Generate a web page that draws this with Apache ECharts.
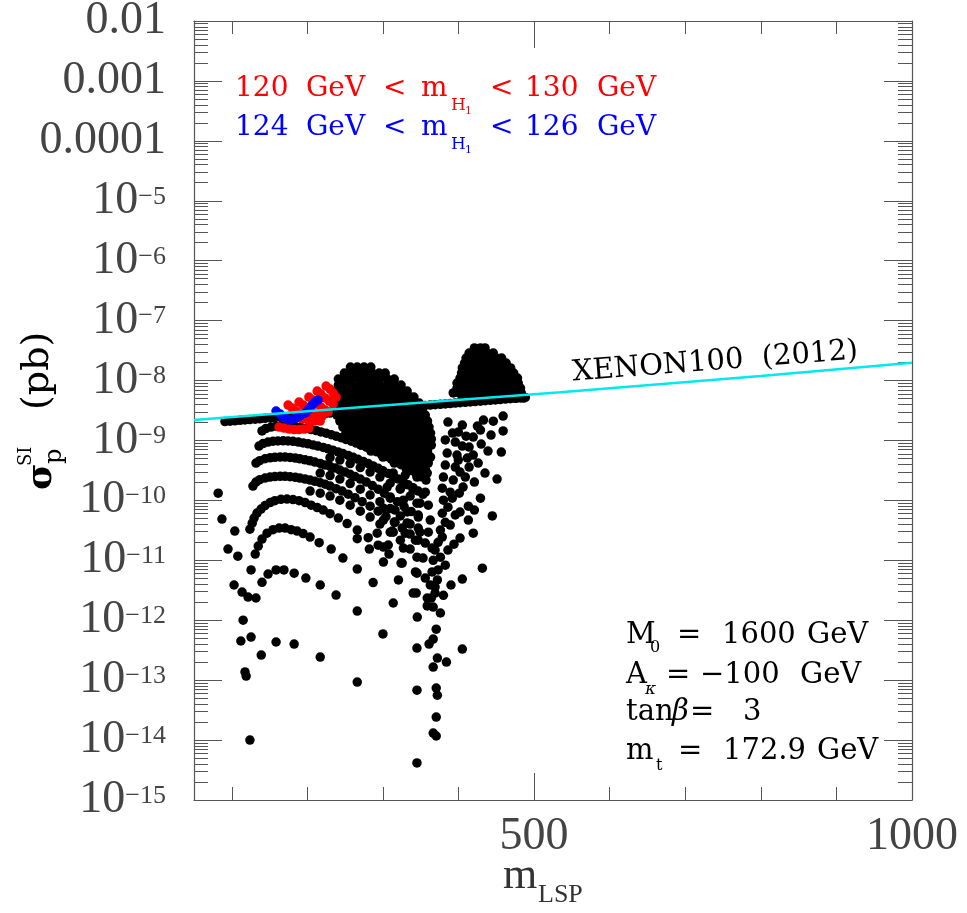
<!DOCTYPE html>
<html>
<head>
<meta charset="utf-8">
<script src="https://cdn.jsdelivr.net/npm/echarts@6/dist/echarts.min.js"></script>
<style>
html,body{margin:0;padding:0;background:#fff;}
#chart{width:967px;height:913px;}
</style>
</head>
<body>
<div id="chart"></div>
<script>
// ---------------- axis ticks / labels ----------------
const massTicksMajor = [500, 1000];
const massTickLabels = ['500', '1000'];
const massTicksMinor = [100, 200, 300, 400, 600, 700, 800, 900];
const sigmaExponents = [-15, -14, -13, -12, -11, -10, -9, -8, -7, -6, -5, -4, -3, -2];
const sigmaTickLabels = ['{b|10}{s|\u221215}', '{b|10}{s|\u221214}', '{b|10}{s|\u221213}', '{b|10}{s|\u221212}',
  '{b|10}{s|\u221211}', '{b|10}{s|\u221210}', '{b|10}{s|\u22129}', '{b|10}{s|\u22128}', '{b|10}{s|\u22127}',
  '{b|10}{s|\u22126}', '{b|10}{s|\u22125}', '{b|0.0001}', '{b|0.001}', '{b|0.01}'];
const minorMantissas = [2, 3, 4, 5, 6, 7, 8, 9];

// ---------------- XENON100 (2012) limit ----------------
const xenonMass = [50, 200, 300, 535, 800, 1000];
const xenonSigma = [2.2e-9, 3.08e-9, 3.85e-9, 6.35e-9, 1.19e-8, 1.98e-8];

// ---------------- black points ----------------
const bandPoints = [[91,2.07e-9],[97.7,2.10e-9],[104,2.13e-9],[111,2.17e-9],[117.5,2.20e-9],[124,2.23e-9],[131,2.27e-9],[137,2.30e-9],[144,2.34e-9],[150.7,2.38e-9],[157,2.41e-9],[164,2.45e-9],[170.5,2.49e-9],[177,2.53e-9],[184,2.56e-9],[190,2.60e-9],[197,2.64e-9],[203.6,2.69e-9],[210,2.73e-9],[217,2.77e-9],[223.5,2.81e-9],[230,2.86e-9],[237,2.90e-9],[243,2.95e-9],[250,2.99e-9],[256.6,3.04e-9],[263,3.09e-9],[270,3.13e-9],[276.5,3.18e-9],[283,3.23e-9],[290,3.28e-9],[296,3.33e-9],[303,3.38e-9],[309.6,3.44e-9],[316,3.49e-9],[323,3.54e-9],[329.5,3.60e-9],[336,3.66e-9],[343,3.71e-9],[349,3.77e-9],[356,3.83e-9],[362.6,3.89e-9],[369,3.95e-9],[376,4.01e-9],[382.5,4.07e-9],[389,4.13e-9],[395.7,4.20e-9],[402,4.26e-9],[409,4.33e-9],[415.6,4.40e-9],[422,4.46e-9],[429,4.53e-9],[435.4,4.60e-9],[442,4.68e-9],[448.7,4.75e-9],[455,4.82e-9],[462,4.90e-9],[468.5,4.97e-9],[475,5.05e-9],[482,5.13e-9],[488.4,5.21e-9]];

const fanSigma = [3.5e-8, 2.88e-8, 2.37e-8, 1.96e-8, 1.62e-8, 1.33e-8, 1.10e-8, 9.1e-9, 7.5e-9, 6.2e-9, 5.1e-9];
const fanMass = [
  [421,429,435],
  [414,422,430,438,446],
  [410,418,426,434,442,450,457],
  [408,416,424,432,439,447,455,463],
  [405,413,421,429,437,445,453,461,469],
  [404,412,420,428,435,443,451,459,467,473],
  [402,410,418,426,434,442,450,458,466,474,478],
  [398,406,414,422,430,438,446,454,462,470,479],
  [398,406,414,422,430,438,446,454,462,470,482],
  [393,401,409,417,425,433,441,449,457,465,473,483],
  [405,413,421,429,437,445,453,461,469,477,486]
];

const blobSigma = [1.68e-8, 1.33e-8, 1.06e-8, 8.4e-9, 6.67e-9, 5.3e-9, 4.2e-9, 3.34e-9, 2.65e-9, 2.11e-9, 1.67e-9, 1.33e-9, 1.05e-9, 8.37e-10, 6.64e-10, 5.28e-10, 4.19e-10, 3.33e-10];
const blobMass = [
  [257,266,275,284],
  [249,258,267,277,286,295,303],
  [241,250,259,269,278,287,296,306,315],
  [241,250,259,269,278,287,296,306,315,324],
  [239,249,258,267,277,286,295,304,314,323,332],
  [243,253,262,271,281,290,299,308,318,327,336,341],
  [239,249,258,267,277,286,295,304,314,323,332,341,348],
  [243,253,262,271,281,290,299,308,318,327,336,345,352],
  [239,249,258,267,277,286,295,304,314,323,332,341,349,356],
  [243,253,262,271,281,290,299,308,318,327,336,345,355,359],
  [247,257,266,275,284,294,303,312,322,331,340,349,357,361],
  [251,261,270,279,288,298,307,316,326,335,344,353,363],
  [257,266,275,284,294,303,312,322,331,340,349,359,364],
  [271,281,290,299,308,318,327,336,345,355,364],
  [284,294,303,312,322,331,340,349,359],
  [300,310,319,328,337,347,356,363],
  [315,324,333,343,352,360],
  [331,340,349,356]
];

const arcPoints = [
  [140,4.3e-12],[148,5.9e-12],[158.6,6.9e-12],[169,6.9e-12],[182.5,6.1e-12],[198,5.06e-12],[217,3.87e-12],[238,2.63e-12],[266,1.42e-12],[300,5.9e-13],
  [131,1.27e-11],[135,1.73e-11],[140,2.26e-11],[146.7,2.84e-11],[154.6,3.25e-11],[162.6,3.45e-11],[170.5,3.45e-11],[178.5,3.25e-11],[186.4,3.07e-11],[194.4,2.79e-11],[203.6,2.44e-11],[215.6,1.97e-11],[231.5,1.54e-11],[247,1.09e-11],[266,7.15e-12],[287,4.25e-12],[313.6,1.94e-12],
  [124,3.31e-11],[127,4.17e-11],[129.5,5.06e-11],[133.4,6.13e-11],[138.7,7.15e-11],[144,8.18e-11],[150.7,9.18e-11],[157,9.9e-11],[165,1.04e-10],[173,1.05e-10],[181,1.03e-10],[189,9.9e-11],[197,9.2e-11],[205,8.3e-11],[213,7.6e-11],[221,6.9e-11],[230,6.0e-11],[241,5.06e-11],[252.6,4.1e-11],[266,3.2e-11],[280.5,2.39e-11],[293.7,1.79e-11],[308,1.27e-11],[324,9.0e-12],
  [128,1.73e-10],[132,2.02e-10],[137,2.22e-10],[144,2.36e-10],[150.7,2.45e-10],[157,2.5e-10],[164,2.52e-10],[170.5,2.52e-10],[177,2.49e-10],[184,2.43e-10],[190,2.36e-10],[197,2.27e-10],[203.6,2.18e-10],[210,2.08e-10],[217,1.97e-10],[223.5,1.86e-10],[230,1.73e-10],[238,1.57e-10],[246,1.43e-10],[254,1.27e-10],[263,1.11e-10],[272.5,9.5e-11],[283,8.0e-11],[293.7,6.6e-11],[304,5.36e-11],[315,4.35e-11],[325.5,3.45e-11],[336,2.74e-11],[346.7,2.17e-11],
  [132,4.19e-10],[137,4.6e-10],[144,4.95e-10],[150.7,5.14e-10],[157,5.24e-10],[164,5.28e-10],[170.5,5.28e-10],[177,5.22e-10],[184,5.08e-10],[190,4.93e-10],[197,4.76e-10],[203.6,4.58e-10],[210,4.36e-10],[217,4.14e-10],[223.5,3.9e-10],[230,3.69e-10],[237,3.46e-10],[243,3.2e-10],[250,2.97e-10],[256.6,2.73e-10],[263,2.5e-10],[270,2.27e-10],[278,2.02e-10],[286,1.77e-10],[293.7,1.54e-10],[301.7,1.32e-10],[309.6,1.14e-10],[319,9.5e-11],[328,7.9e-11],[337.4,6.5e-11],[346.7,5.26e-11],
  [136,8.05e-10],[141.4,8.88e-10],[148,9.4e-10],[154.6,9.7e-10],[161,9.8e-10],[168,9.85e-10],[174.5,9.8e-10],[181,9.66e-10],[188,9.4e-10],[194.4,9.1e-10],[201,8.8e-10],[207.6,8.4e-10],[214,8.05e-10],[221,7.66e-10],[227.5,7.26e-10],[234,6.85e-10],[240.7,6.44e-10],[247,6.04e-10],[254,5.63e-10],[260.6,5.24e-10],[267,4.85e-10],[274,4.47e-10],[280.5,4.11e-10],[287,3.76e-10],[293.7,3.43e-10],[300,3.12e-10],[307,2.82e-10],[313.6,2.54e-10],[320,2.28e-10],[327,2.04e-10],[333.4,1.82e-10],[340,1.62e-10],[346.7,1.43e-10],[353,1.26e-10],
  [140,1.44e-9],[145,1.58e-9],[152,1.67e-9],[158.6,1.73e-9],[165,1.75e-9],[172,1.75e-9],[178.5,1.73e-9],[185,1.69e-9],[191.7,1.64e-9],[198,1.58e-9],[205,1.52e-9],[211.6,1.46e-9],[218,1.39e-9],[225,1.32e-9],[231.5,1.25e-9],[238,1.18e-9],[244.6,1.11e-9],[251,1.04e-9],[258,9.7e-10],[264.6,9.06e-10],[271,8.37e-10],[278,7.7e-10],[284.4,7.1e-10],[291,6.5e-10],[297.7,5.93e-10],[304,5.38e-10],[311,4.87e-10],[317.5,4.39e-10],[324,3.94e-10],[331,3.53e-10],[337.4,3.14e-10],[344,2.79e-10],[350.7,2.47e-10],[357,2.18e-10],
  [203.6,1.43e-10],[217,1.32e-10],[230,1.18e-10],[243,1.01e-10],[256.6,8.3e-11],[270,6.6e-11],[283,5.26e-11],[296,4.02e-11],[309.6,2.95e-11],[323,2.17e-11],[336,1.54e-11],
  [217,2.86e-10],[230,2.6e-10],[243,2.27e-10],[256.6,1.91e-10],[270,1.54e-10],[283,1.23e-10],[296,9.5e-11],[309.6,7.3e-11],[323,5.5e-11],[336,4.02e-11],[349,2.95e-11],
  [230,5.18e-10],[243,4.7e-10],[256.6,4.11e-10],[270,3.53e-10],[283,2.97e-10],[296,2.45e-10],[309.6,1.94e-10],[323,1.54e-10],[336,1.18e-10],[349,9.0e-11]
];

const branchPoints = [
  [459,2.55e-9],[459,1.44e-9],[456.6,6.4e-10],[451,2.27e-10],[444.7,5.5e-11],[431.5,7.4e-12],
  [446,2.1e-9],[443,1.23e-9],[439,6.65e-10],[435,2.86e-10],[429,1.09e-10],[419.5,2.84e-11],[405,4.87e-12],
  [433,2.19e-9],[429,1.49e-9],[430,8.7e-10],[421,2.02e-10],[413,8.0e-11],[402,2.35e-11],[390,3.87e-12],
  [425,1.74e-9],[419.5,1.14e-9],[414,7.76e-10],[411.6,5.1e-10],[414,3.6e-10],[409,2.45e-10],[406,1.67e-10],[401,1.32e-10],[402,6.4e-11],[394,1.86e-11],[380,2.6e-12],[376,1.32e-12],
  [386,2.03e-9],[392,1.33e-9],[382.5,1.02e-9],[395.7,9.4e-10],[385,6.15e-10],[398,5.7e-10],[382.5,3.88e-10],[395.7,3.6e-10],[380,2.45e-10],[393,2.18e-10],[378.5,1.6e-10],[389,1.37e-10],[380,1.01e-10],[386,7.7e-11],[378.5,6.1e-11],[382.5,4.3e-11],[376,3.2e-11],[378.5,2.44e-11],[373,2.0e-11],[369,1.48e-11],[376,1.13e-11],[366.5,1.0e-11],[373,6.9e-12],[365,6.4e-12],[372,4.7e-12],[362.6,3.87e-12],[369,2.84e-12],[358.6,2.35e-12],[366.5,1.66e-12],[345.4,1.13e-12],
  [405,1.81e-9],[399.7,1.38e-9],[410,1.18e-9],[405,8.05e-10],[399.7,4.7e-10],[419.5,5.7e-10],[426,4.2e-10],[402,2.97e-10],[391.7,1.09e-10],[395.7,5.7e-11],[389,3.87e-11],[386,1.48e-11],[382.5,8.3e-12],[413,4.7e-11],[421,6.9e-11]
];

const latticePoints = [
  [300.6,2.97e-10],[313.6,2.86e-10],[329.5,2.64e-10],[345,2.45e-10],[358.6,2.86e-10],[305.6,1.67e-10],[323,1.6e-10],[340,1.49e-10],[356,1.37e-10],[309.6,1.09e-10],[327,1.01e-10],[345,9.0e-11],[360,8.3e-11],[300.6,7.4e-11],[316,6.9e-11],[332,6.4e-11],[346.7,5.7e-11],[362.6,4.7e-11],[300.6,4.7e-11],[316,4.3e-11],[332,4.2e-11],[346.7,3.45e-11],[360,2.95e-11],[313.6,2.95e-11],[329.5,2.84e-11],[343,2.17e-11],[356,1.94e-11],[365,1.6e-11],[300.6,1.66e-11],[327,1.6e-11],[345,1.13e-11],[353,1.09e-11],[300.6,9.35e-12],[325.5,9.0e-12],[343,6.4e-12],[320.5,4.7e-12],[340,2.84e-12],[282,1.54e-11],[307,1.8e-11],[292.4,2.84e-11],[312.3,3.07e-11],[266,2.3e-11]
];

const lowPoints = [
  [361,4.0e-13],[366.5,4.85e-13],[370.5,7.1e-13],[372,2.34e-13],[384,2.0e-13],[366.5,1.65e-13],[405,3.3e-13],[345,3.43e-13],[345,6.8e-14],[370.5,7.4e-14],[372,5.6e-14],[370.5,2.42e-14],[366.5,1.31e-14],[370.5,1.17e-14],[345,4.15e-15],[358.6,1.73e-12],[364,2.35e-12],[344,2.84e-12],[345,6.1e-12],[356,5.05e-12],[369,3.58e-12]
];

const isolatedPoints = [
  [82,1.32e-10],[87,4.87e-11],[104,3.07e-11],[95,1.54e-11],[108,1.17e-11],[125.5,6.9e-12],[103,3.87e-12],[113.6,2.95e-12],[121.5,2.44e-12],[132,2.35e-12],[115,1.0e-12],[112,4.5e-13],[125.5,5.24e-13],[158.6,4.33e-13],[182.5,4.0e-13],[139,2.62e-13],[217,2.43e-13],[117.5,1.37e-13],[119,1.17e-13],[266,9.28e-14],[124,1.0e-14]
];

// ---------------- coloured points ----------------
const redPoints = [
  [224.8,8.1e-9],[230,7.2e-9],[234,6.2e-9],[238,5.3e-9],
  [213,6.67e-9],[218,5.95e-9],[223.5,5.1e-9],[229,4.54e-9],[234,4.05e-9],
  [202,5.3e-9],[207.6,4.72e-9],[213,4.05e-9],[218,3.61e-9],[223.5,3.22e-9],
  [189,4.37e-9],[194.4,3.9e-9],[199.7,3.47e-9],[205,3.1e-9],[210,2.76e-9],
  [174.5,3.9e-9],[180,3.47e-9],[185,3.1e-9],[190,2.76e-9],[195.7,2.46e-9],
  [162.6,1.67e-9],[169,1.61e-9],[176,1.55e-9],[182.5,1.52e-9],[189,1.52e-9],[195.7,1.55e-9],[202,1.61e-9],
  [185,2.37e-9],[193,2.28e-9],[201,2.19e-9],[209,2.11e-9],[217,2.11e-9],[227.5,2.98e-9],[219.5,2.55e-9]
];
const bluePoints = [
  [158.6,3.1e-9],[164,2.76e-9],[168,2.46e-9],[173,2.28e-9],[178.5,2.19e-9],[185,2.37e-9],
  [190,2.55e-9],[197,2.86e-9],[202,3.34e-9],[206,3.9e-9],[210,4.37e-9],[214,4.72e-9]
];

// ---------------- build ----------------
function rowsToPoints(sig, mass) {
  const out = [];
  sig.forEach(function (s, i) { mass[i].forEach(function (m) { out.push([m, s]); }); });
  return out;
}
const blackPoints = [].concat(bandPoints, rowsToPoints(fanSigma, fanMass), rowsToPoints(blobSigma, blobMass),
  arcPoints, branchPoints, latticePoints, lowPoints, isolatedPoints);
const xenonData = xenonMass.map(function (m, i) { return [m, xenonSigma[i]]; });

const minorExp = [];
sigmaExponents.slice(0, -1).forEach(function (e) {
  minorMantissas.forEach(function (k) { minorExp.push(e + Math.log10(k)); });
});

const AX = '#555';
const TICKFONT = '"Liberation Serif", serif';
const ANNFONT = '"DejaVu Serif", serif';
const LABELCOLOR = '#444';
const DOT = 9.5;
const axLine = { show: true, onZero: false, lineStyle: { color: AX, width: 1.2 } };
const tickStyle = { color: AX, width: 1 };

function xAx(pos, major) {
  return {
    type: 'value', position: pos, min: 50, max: 1000,
    axisLine: major ? axLine : { show: false },
    axisTick: { show: true, inside: true, length: major ? 27 : 13, customValues: major ? massTicksMajor : massTicksMinor, lineStyle: tickStyle },
    axisLabel: (major && pos === 'bottom') ? {
      show: true, customValues: massTicksMajor, margin: 14, fontFamily: TICKFONT, fontSize: 46, color: LABELCOLOR,
      showMinLabel: true, showMaxLabel: true,
      formatter: function (v) { const i = massTicksMajor.indexOf(Math.round(v)); return i >= 0 ? massTickLabels[i] : ''; }
    } : { show: false },
    splitLine: { show: false }
  };
}
function yMajor(pos) {
  return {
    type: 'log', logBase: 10, position: pos, min: 1e-15, max: 1e-2, interval: 1,
    axisLine: axLine,
    axisTick: { show: true, inside: true, length: 28, lineStyle: tickStyle },
    minorTick: { show: false },
    axisLabel: pos === 'left' ? {
      show: true, margin: 28, showMinLabel: true, showMaxLabel: true,
      formatter: function (v) {
        const e = Math.round(Math.log10(v));
        const i = sigmaExponents.indexOf(e);
        return i >= 0 ? sigmaTickLabels[i] : '';
      },
      rich: {
        b: { fontFamily: TICKFONT, fontSize: 46, lineHeight: 46, color: LABELCOLOR },
        s: { fontFamily: TICKFONT, fontSize: 26, lineHeight: 26, color: LABELCOLOR, verticalAlign: 'top', padding: [6, 0, 0, 0] }
      }
    } : { show: false },
    splitLine: { show: false }
  };
}
function yMinor(pos) {
  return {
    type: 'value', position: pos, min: -15, max: -2,
    axisLine: { show: false },
    axisTick: { show: true, inside: true, length: 14, customValues: minorExp, lineStyle: tickStyle },
    axisLabel: { show: false },
    splitLine: { show: false }
  };
}

function txt(t, x, y, size, color, pre, font) {
  return { type: 'text', x: x, y: y, silent: true, z: 100,
    style: { text: t, font: (pre || '') + ' ' + size + 'px ' + (font || ANNFONT), fill: color, align: 'left', verticalAlign: 'middle' } };
}

const graphics = [
  // legend (red)
  txt('120', 235, 89, 28, '#ff0000'), txt('GeV', 306, 89, 28, '#ff0000'), txt('<', 383, 89, 28, '#ff0000'),
  txt('m', 421, 89, 28, '#ff0000'), txt('H', 451, 106, 17, '#ff0000'), txt('1', 465, 111, 11, '#ff0000'),
  txt('<', 490, 89, 28, '#ff0000'), txt('130', 525, 89, 28, '#ff0000'), txt('GeV', 597, 89, 28, '#ff0000'),
  // legend (blue)
  txt('124', 235, 128, 28, '#0000ff'), txt('GeV', 306, 128, 28, '#0000ff'), txt('<', 383, 128, 28, '#0000ff'),
  txt('m', 421, 128, 28, '#0000ff'), txt('H', 451, 145, 17, '#0000ff'), txt('1', 465, 150, 11, '#0000ff'),
  txt('<', 490, 128, 28, '#0000ff'), txt('126', 525, 128, 28, '#0000ff'), txt('GeV', 597, 128, 28, '#0000ff'),
  // parameters
  txt('M', 626, 635, 29, '#000'), txt('0', 650, 648, 16, '#000'), txt('=', 677, 635, 29, '#000'),
  txt('1600', 722, 635, 29, '#000'), txt('GeV', 807, 635, 29, '#000'),
  txt('A', 626, 675, 29, '#000'), txt('\u03ba', 645, 690, 17, '#000', 'italic'), txt('=', 666, 675, 29, '#000'),
  txt('\u2212100', 700, 675, 29, '#000'), txt('GeV', 800, 675, 29, '#000'),
  txt('tan', 626, 712, 29, '#000'), txt('\u03b2', 672, 712, 29, '#000', 'italic'), txt('=', 690, 712, 29, '#000'),
  txt('3', 743, 712, 29, '#000'),
  txt('m', 626, 751, 29, '#000'), txt('t', 656, 766, 16, '#000'), txt('=', 678, 751, 29, '#000'),
  txt('172.9', 723, 751, 29, '#000'), txt('GeV', 817, 751, 29, '#000'),
  // XENON label
  { type: 'group', x: 573, y: 382, rotation: 4.4 * Math.PI / 180, children: [txt('XENON100  (2012)', 0, -9, 29, '#000')] },
  // x axis title
  txt('m', 503, 876, 44, '#333', '', TICKFONT), txt('LSP', 538, 895, 26, '#333', '', TICKFONT),
  // y axis title
  { type: 'group', x: 42, y: 490, rotation: Math.PI / 2, children: [
    txt('\u03c3', 0, 0, 36, '#000', 'bold'),
    txt('SI', 24, -16, 18, '#000'),
    txt('p', 26, 13, 24, '#000'),
    txt('(pb)', 80, -4, 38, '#000')
  ] }
];

const chart = echarts.init(document.getElementById('chart'), null, { renderer: 'canvas' });
chart.setOption({
  animation: false,
  backgroundColor: '#ffffff',
  grid: { left: 194, right: 55, top: 21, bottom: 113, containLabel: false, outerBoundsMode: 'none' },
  xAxis: [xAx('bottom', true), xAx('bottom', false), xAx('top', true), xAx('top', false)],
  yAxis: [yMajor('left'), yMinor('left'), yMajor('right'), yMinor('right')],
  series: [
    { type: 'scatter', name: 'all', xAxisIndex: 0, yAxisIndex: 0, data: blackPoints, symbol: 'circle', symbolSize: DOT,
      itemStyle: { color: '#000', opacity: 1 }, silent: true, z: 2 },
    { type: 'scatter', name: '120-130', xAxisIndex: 0, yAxisIndex: 0, data: redPoints, symbol: 'circle', symbolSize: DOT,
      itemStyle: { color: '#ff0000', opacity: 1 }, silent: true, z: 3 },
    { type: 'scatter', name: '124-126', xAxisIndex: 0, yAxisIndex: 0, data: bluePoints, symbol: 'circle', symbolSize: DOT,
      itemStyle: { color: '#0000ff', opacity: 1 }, silent: true, z: 4 },
    { type: 'line', name: 'XENON100 (2012)', xAxisIndex: 0, yAxisIndex: 0, data: xenonData, showSymbol: false, symbol: 'none',
      lineStyle: { color: '#00e8f0', width: 2.5 }, silent: true, z: 5 }
  ],
  graphic: graphics
});
</script>
</body>
</html>
